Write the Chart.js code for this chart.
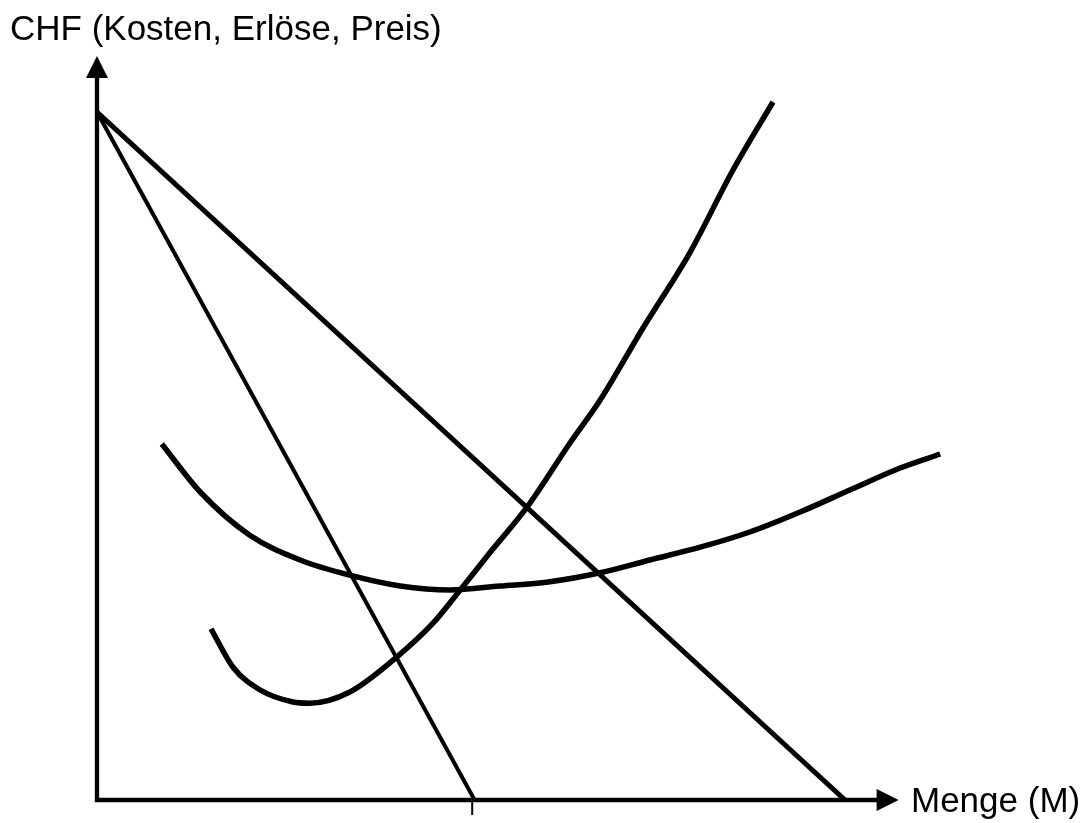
<!DOCTYPE html>
<html>
<head>
<meta charset="utf-8">
<script src="https://cdn.jsdelivr.net/npm/chart.js@4"></script>
<style>
  html, body { margin: 0; padding: 0; background: #fff; }
  #wrap { width: 1084px; height: 823px; }
</style>
</head>
<body>
<div id="wrap"><canvas id="grafico" width="1084" height="823"></canvas></div>
<script>
// Achsen (Datenbereich)
const xMax = 110;
const yMax = 93;
const achseXEnde = 100.2;   // Pfeilspitze Menge
const achseYEnde = 93;      // Pfeilspitze CHF

// Preis-Absatz-Funktion (Nachfrage) und Grenzerlös
const preisMenge = [0, 93.5];
const preisWert = [86, 0];
const grenzerloesMenge = [0, 47.2];
const grenzerloesWert = [86, 0];
const markeMenge = 46.9;

// Durchschnittskosten
const dkMenge = [8.1, 12.9, 19.1, 25.4, 31.6, 37.9, 44.1, 50.4, 56.4, 62.9, 69.1, 75.4, 81.6, 87.9, 94.1, 100.4, 105.4];
const dkWert  = [44.5, 38.5, 33.1, 30, 28.1, 26.75, 26.25, 26.75, 27.25, 28.4, 30, 31.6, 33.5, 36, 38.75, 41.5, 43.25];

// Grenzkosten
const gkMenge = [14.25, 17, 20.4, 24.5, 26.6, 31.6, 37.5, 42, 45.4, 49.1, 53.75, 59.1, 62.9, 68.25, 74.1, 79.5, 84.5];
const gkWert  = [21.4, 16.6, 13.75, 12.25, 12.1, 13.5, 17.9, 22.1, 26.25, 30.9, 36.6, 44.6, 50, 59, 68.4, 78.75, 87.25];

function punkte(xs, ys) {
  return xs.map((x, i) => ({ x, y: ys[i] }));
}

const schrift = '35px "Liberation Sans", Arial, sans-serif';

const achsen = {
  id: 'achsen',
  afterDatasetsDraw(chart) {
    const ctx = chart.ctx;
    const sx = chart.scales.x, sy = chart.scales.y;
    const x0 = sx.getPixelForValue(0), y0 = sy.getPixelForValue(0);
    const xe = sx.getPixelForValue(achseXEnde), ye = sy.getPixelForValue(achseYEnde);
    const pfeil = 22, halb = 11;
    ctx.save();
    ctx.strokeStyle = '#000';
    ctx.fillStyle = '#000';
    ctx.lineWidth = 4.3;
    ctx.lineCap = 'square';
    ctx.beginPath();
    ctx.moveTo(x0, ye + pfeil);
    ctx.lineTo(x0, y0);
    ctx.lineTo(xe - pfeil, y0);
    ctx.stroke();
    // Pfeilspitzen
    ctx.beginPath();
    ctx.moveTo(x0, ye);
    ctx.lineTo(x0 - halb, ye + pfeil);
    ctx.lineTo(x0 + halb, ye + pfeil);
    ctx.closePath();
    ctx.fill();
    ctx.beginPath();
    ctx.moveTo(xe, y0);
    ctx.lineTo(xe - pfeil, y0 - halb);
    ctx.lineTo(xe - pfeil, y0 + halb);
    ctx.closePath();
    ctx.fill();
    // Markierung
    const xm = sx.getPixelForValue(markeMenge);
    ctx.lineWidth = 2;
    ctx.lineCap = 'butt';
    ctx.beginPath();
    ctx.moveTo(xm, y0);
    ctx.lineTo(xm, y0 + 15);
    ctx.stroke();
    // Beschriftung
    ctx.font = schrift;
    ctx.textBaseline = 'alphabetic';
    ctx.textAlign = 'left';
    ctx.fillText('CHF (Kosten, Erlöse, Preis)', 10, 40);
    ctx.fillText('Menge (M)', 911, 812);
    ctx.restore();
  }
};

new Chart(document.getElementById('grafico'), {
  type: 'line',
  data: {
    datasets: [
      { label: 'Preis', data: punkte(preisMenge, preisWert), borderColor: '#000', borderWidth: 5, pointRadius: 0, tension: 0 },
      { label: 'Grenzerlös', data: punkte(grenzerloesMenge, grenzerloesWert), borderColor: '#000', borderWidth: 4, pointRadius: 0, tension: 0 },
      { label: 'Durchschnittskosten', data: punkte(dkMenge, dkWert), borderColor: '#000', borderWidth: 5.5, pointRadius: 0, cubicInterpolationMode: 'monotone' },
      { label: 'Grenzkosten', data: punkte(gkMenge, gkWert), borderColor: '#000', borderWidth: 5.5, pointRadius: 0, cubicInterpolationMode: 'monotone' }
    ]
  },
  options: {
    responsive: false,
    animation: false,
    layout: { padding: { left: 97, right: 107, top: 56, bottom: 23 } },
    plugins: { legend: { display: false }, tooltip: { enabled: false } },
    scales: {
      x: { type: 'linear', min: 0, max: xMax, display: false },
      y: { type: 'linear', min: 0, max: yMax, display: false }
    }
  },
  plugins: [achsen]
});
</script>
</body>
</html>
